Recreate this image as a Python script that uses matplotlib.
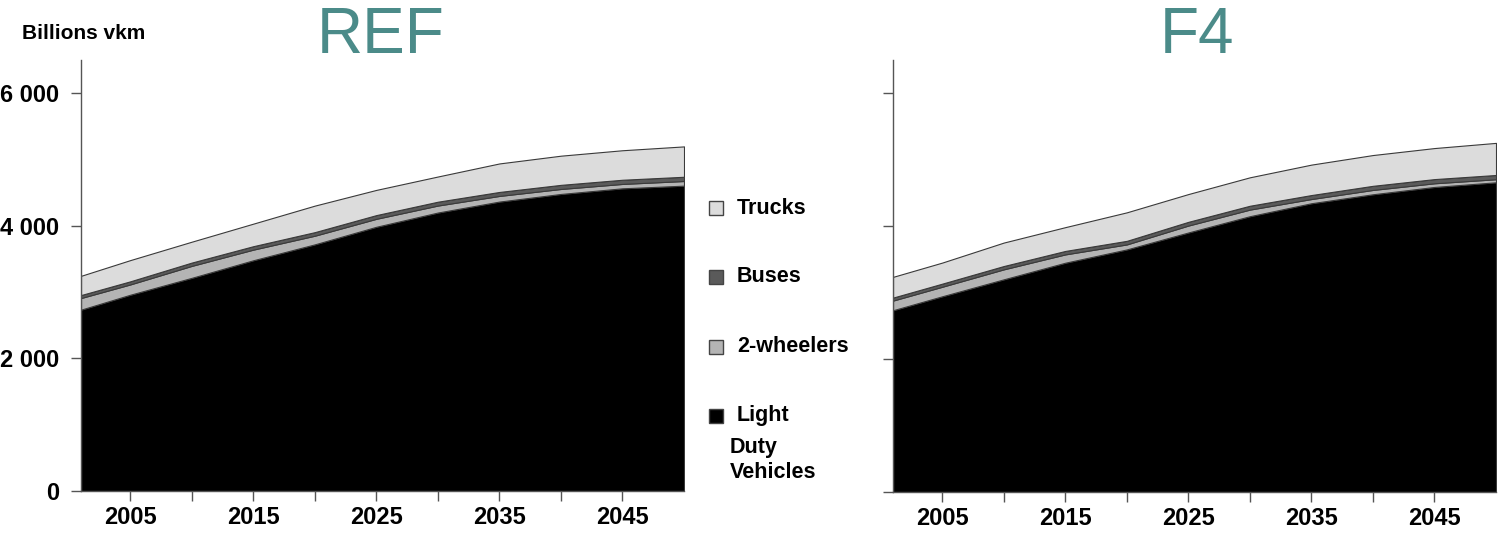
"""
Road traffic by vehicle type, REF vs F4 scenario (billions vkm), stacked areas.
"""
import matplotlib
matplotlib.use("Agg")
import matplotlib.pyplot as plt
from matplotlib.patches import Rectangle

plt.rcParams["font.family"] = ["Liberation Sans", "DejaVu Sans"]

years = [2001, 2005, 2010, 2015, 2020, 2025, 2030, 2035, 2040, 2045, 2050]
categories = ["Light\nDuty\nVehicles", "2-wheelers", "Buses", "Trucks"]

# REF scenario
ref_ldv = [2735, 2960, 3215, 3480, 3720, 3985, 4200, 4365, 4480, 4565, 4605]
ref_2w = [175, 155, 180, 160, 130, 120, 105, 85, 75, 66, 70]
ref_bus = [45, 47, 50, 52, 54, 56, 58, 60, 62, 63, 64]
ref_trucks = [290, 320, 315, 340, 400, 380, 380, 430, 440, 445, 458]

# F4 scenario
f4_ldv = [2735, 2945, 3200, 3450, 3650, 3905, 4150, 4345, 4480, 4590, 4660]
f4_2w = [145, 143, 150, 125, 75, 104, 99, 63, 65, 55, 46]
f4_bus = [45, 47, 50, 52, 54, 56, 58, 60, 62, 63, 64]
f4_trucks = [312, 317, 353, 358, 429, 418, 428, 458, 463, 467, 483]

colors = ["#000000", "#b4b4b4", "#5a5a5a", "#dcdcdc"]
edge = "#3a3a3a"
teal = "#4b8b89"

W, H = 1498, 542
fig = plt.figure(figsize=(W / 100, H / 100), dpi=100)


def px(x, y):
    return x / W, 1 - y / H


def panel(rect, series):
    ax = fig.add_axes(rect)
    ax.stackplot(years, *series, colors=colors, edgecolor=edge, linewidth=0.8)
    ax.set_xlim(2001, 2050)
    ax.set_ylim(0, 6500)
    for s in ["top", "right"]:
        ax.spines[s].set_visible(False)
    for s in ["left", "bottom"]:
        ax.spines[s].set_color("#555555")
        ax.spines[s].set_linewidth(1.0)
    ax.set_xticks([2005, 2015, 2025, 2035, 2045])
    ax.set_xticks([2010, 2020, 2030, 2040], minor=True)
    ax.set_yticks([0, 2000, 4000, 6000])
    ax.tick_params(axis="both", which="both", direction="out", length=7,
                   width=1, color="#555555")
    ax.tick_params(axis="x", which="major", pad=4, labelsize=17)
    ax.tick_params(axis="y", pad=9, labelsize=17)
    for lab in ax.get_xticklabels() + ax.get_yticklabels():
        lab.set_fontweight("bold")
    return ax


ax1 = panel([81 / W, 1 - 491 / H, 603 / W, 431 / H],
            [ref_ldv, ref_2w, ref_bus, ref_trucks])
ax1.set_yticklabels(["0", "2 000", "4 000", "6 000"])

ax2 = panel([893 / W, 1 - 492 / H, 603 / W, 432 / H],
            [f4_ldv, f4_2w, f4_bus, f4_trucks])
ax2.set_yticklabels([])

# titles
fig.text(*px(22, 39), "Billions vkm", fontsize=15, fontweight="bold",
         ha="left", va="baseline")
fig.text(*px(381, 53), "REF", fontsize=46, color=teal, ha="center", va="baseline")
fig.text(*px(1197, 53), "F4", fontsize=46, color=teal, ha="center", va="baseline")

# legend, drawn by hand between the panels
leg_y = [208, 277, 347, 416]
leg_items = [("Trucks", colors[3]), ("Buses", colors[2]),
             ("2-wheelers", colors[1]), ("Light", colors[0])]
for (label, c), yc in zip(leg_items, leg_y):
    x0, y0 = px(709, yc + 7)
    fig.add_artist(Rectangle((x0, y0), 14 / W, 14 / H, transform=fig.transFigure,
                             facecolor=c, edgecolor="#444444", linewidth=1))
    fig.text(*px(737, yc), label, fontsize=15.5, fontweight="bold",
             ha="left", va="center")
fig.text(*px(730, 447), "Duty", fontsize=15.5, fontweight="bold",
         ha="left", va="center")
fig.text(*px(730, 473), "Vehicles", fontsize=15.5, fontweight="bold",
         ha="left", va="center")

fig.savefig("out.png", dpi=100)
